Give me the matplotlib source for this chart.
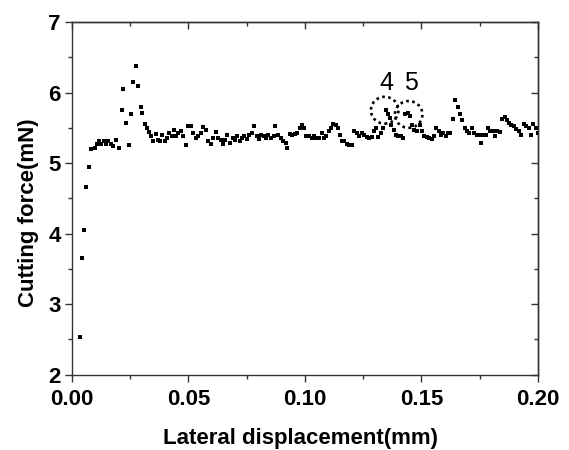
import matplotlib
matplotlib.use("Agg")
import matplotlib.pyplot as plt
from matplotlib.patches import Ellipse
from matplotlib.ticker import MultipleLocator, FormatStrFormatter

plt.rcParams['font.family'] = ['Liberation Sans', 'DejaVu Sans']

displacement = [
    0.0036, 0.0045, 0.0053, 0.0061, 0.0075, 0.0083, 0.0097, 0.0106, 0.0115, 0.0126,
    0.0137, 0.0147, 0.0156, 0.0167, 0.0178, 0.0189, 0.0203, 0.0214, 0.0221, 0.0231,
    0.0243, 0.0254, 0.0262, 0.0273, 0.0282, 0.0295, 0.0301, 0.0312, 0.0321, 0.0330,
    0.0340, 0.0349, 0.0359, 0.0369, 0.0379, 0.0388, 0.0399, 0.0407, 0.0418, 0.0429,
    0.0436, 0.0447, 0.0457, 0.0468, 0.0475, 0.0491, 0.0500, 0.0510, 0.0521, 0.0532,
    0.0542, 0.0555, 0.0564, 0.0574, 0.0585, 0.0597, 0.0606, 0.0617, 0.0627, 0.0638,
    0.0647, 0.0658, 0.0667, 0.0678, 0.0689, 0.0698, 0.0709, 0.0719, 0.0730, 0.0740,
    0.0751, 0.0761, 0.0772, 0.0783, 0.0792, 0.0801, 0.0812, 0.0823, 0.0832, 0.0843,
    0.0854, 0.0865, 0.0873, 0.0884, 0.0895, 0.0906, 0.0917, 0.0924, 0.0935, 0.0946,
    0.0956, 0.0966, 0.0977, 0.0987, 0.0995, 0.1005, 0.1016, 0.1029, 0.1038, 0.1049,
    0.1060, 0.1071, 0.1082, 0.1091, 0.1102, 0.1111, 0.1122, 0.1132, 0.1141, 0.1150,
    0.1160, 0.1169, 0.1180, 0.1189, 0.1200, 0.1211, 0.1222, 0.1231, 0.1244, 0.1253,
    0.1266, 0.1275, 0.1286, 0.1295, 0.1305, 0.1314, 0.1325, 0.1334, 0.1347, 0.1356,
    0.1364, 0.1370, 0.1380, 0.1390, 0.1400, 0.1411, 0.1420, 0.1431, 0.1442, 0.1451,
    0.1461, 0.1470, 0.1481, 0.1492, 0.1502, 0.1512, 0.1523, 0.1532, 0.1543, 0.1554,
    0.1564, 0.1574, 0.1584, 0.1593, 0.1604, 0.1613, 0.1624, 0.1634, 0.1645, 0.1656,
    0.1665, 0.1676, 0.1685, 0.1696, 0.1705, 0.1716, 0.1726, 0.1737, 0.1746, 0.1755,
    0.1766, 0.1776, 0.1786, 0.1796, 0.1806, 0.1815, 0.1825, 0.1836, 0.1847, 0.1858,
    0.1868, 0.1877, 0.1886, 0.1897, 0.1906, 0.1917, 0.1927, 0.1938, 0.1949, 0.1960,
    0.1969, 0.1980, 0.1990, 0.1999,
]
cutting_force = [
    2.54, 3.65, 4.05, 4.66, 4.94, 5.20, 5.21, 5.27, 5.32, 5.27,
    5.31, 5.27, 5.32, 5.27, 5.24, 5.33, 5.21, 5.75, 6.05, 5.57,
    5.25, 5.70, 6.15, 6.37, 6.09, 5.80, 5.71, 5.56, 5.50, 5.44,
    5.38, 5.32, 5.41, 5.33, 5.31, 5.40, 5.31, 5.36, 5.43, 5.39,
    5.47, 5.38, 5.43, 5.46, 5.38, 5.26, 5.53, 5.53, 5.43, 5.36,
    5.38, 5.43, 5.51, 5.47, 5.31, 5.27, 5.36, 5.44, 5.35, 5.33,
    5.27, 5.33, 5.40, 5.28, 5.35, 5.33, 5.38, 5.31, 5.35, 5.38,
    5.34, 5.40, 5.43, 5.53, 5.38, 5.34, 5.40, 5.38, 5.36, 5.40,
    5.36, 5.39, 5.53, 5.40, 5.36, 5.31, 5.29, 5.22, 5.41, 5.40,
    5.41, 5.43, 5.50, 5.54, 5.50, 5.38, 5.39, 5.36, 5.38, 5.36,
    5.36, 5.43, 5.36, 5.38, 5.46, 5.50, 5.56, 5.54, 5.50, 5.40,
    5.32, 5.31, 5.27, 5.25, 5.25, 5.46, 5.42, 5.39, 5.43, 5.40,
    5.37, 5.36, 5.37, 5.46, 5.50, 5.37, 5.43, 5.50, 5.75, 5.69,
    5.64, 5.54, 5.47, 5.40, 5.38, 5.38, 5.35, 5.69, 5.71, 5.67,
    5.54, 5.47, 5.45, 5.54, 5.45, 5.38, 5.37, 5.35, 5.34, 5.38,
    5.50, 5.46, 5.40, 5.43, 5.38, 5.43, 5.43, 5.63, 5.90, 5.80,
    5.70, 5.61, 5.50, 5.46, 5.43, 5.50, 5.43, 5.40, 5.40, 5.29,
    5.40, 5.40, 5.50, 5.45, 5.45, 5.38, 5.46, 5.44, 5.62, 5.66,
    5.61, 5.57, 5.54, 5.52, 5.48, 5.46, 5.40, 5.56, 5.52, 5.50,
    5.40, 5.55, 5.50, 5.42,
]

circle_labels = ["4", "5"]
circle_x = [0.1342, 0.1445]
circle_y = [5.75, 5.69]

fig = plt.figure(figsize=(5.69, 4.50), dpi=100)
ax = fig.add_axes([0.1265, 0.1673, 0.819, 0.7837])

ax.plot(displacement, cutting_force, linestyle='none', marker='s',
        markersize=3.4, color='black', markeredgewidth=0)

for lab, cx, cy in zip(circle_labels, circle_x, circle_y):
    ax.add_patch(Ellipse((cx, cy), width=0.0118, height=0.38, fill=False,
                         edgecolor='black', linestyle=(0, (1, 1.3)), linewidth=1.9))
    ax.text(cx + 0.0008, 6.14, lab, ha='center', va='center', fontsize=18,
            color='black')

ax.set_xlim(0, 0.2)
ax.set_ylim(2, 7)
ax.xaxis.set_major_locator(MultipleLocator(0.05))
ax.xaxis.set_minor_locator(MultipleLocator(0.025))
ax.yaxis.set_major_locator(MultipleLocator(1))
ax.yaxis.set_minor_locator(MultipleLocator(0.5))
ax.xaxis.set_major_formatter(FormatStrFormatter('%.2f'))
ax.yaxis.set_major_formatter(FormatStrFormatter('%d'))

for sp in ax.spines.values():
    sp.set_linewidth(1.0)
    sp.set_color('#333333')

ax.tick_params(which='major', direction='out', length=5, width=1.0, color='#333333')
ax.tick_params(which='minor', direction='out', length=3, width=1.0, color='#333333')
ax.tick_params(axis='x', which='major', pad=5)
ax.tick_params(axis='y', which='major', pad=3)
for lbl in ax.get_xticklabels() + ax.get_yticklabels():
    lbl.set_fontweight('bold')
    lbl.set_fontsize(16)

secx = ax.secondary_xaxis('top')
secx.xaxis.set_major_locator(MultipleLocator(0.05))
secx.xaxis.set_minor_locator(MultipleLocator(0.025))
secx.tick_params(which='major', direction='in', length=5, width=1.0, color='#333333', labeltop=False)
secx.tick_params(which='minor', direction='in', length=3, width=1.0, color='#333333')
secx.spines['top'].set_linewidth(1.0)
secx.spines['top'].set_color('#333333')

secy = ax.secondary_yaxis('right')
secy.yaxis.set_major_locator(MultipleLocator(1))
secy.yaxis.set_minor_locator(MultipleLocator(0.5))
secy.tick_params(which='major', direction='in', length=5, width=1.0, color='#333333', labelright=False)
secy.tick_params(which='minor', direction='in', length=3, width=1.0, color='#333333')
secy.spines['right'].set_linewidth(1.0)
secy.spines['right'].set_color('#333333')

ax.set_xlabel('Lateral displacement(mm)', fontsize=16, fontweight='bold', labelpad=13)
ax.set_ylabel('Cutting force(mN)', fontsize=16, fontweight='bold', labelpad=7)
ax.yaxis.label.set_y(0.46)
ax.xaxis.label.set_x(0.49)

fig.savefig('out.png', dpi=100)
